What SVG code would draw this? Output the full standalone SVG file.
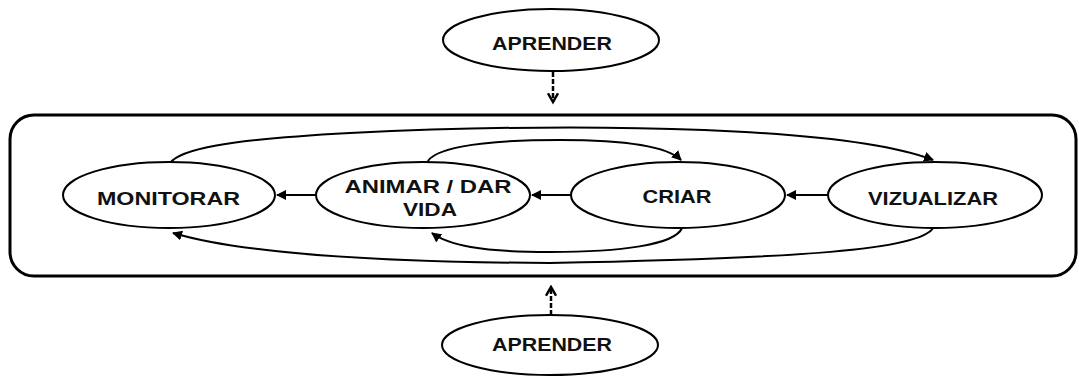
<svg xmlns="http://www.w3.org/2000/svg" width="1079" height="376" viewBox="0 0 1079 376">
  <defs>
    <marker id="arrow" viewBox="0 0 10 10" refX="9" refY="5" markerWidth="5" markerHeight="5" orient="auto" markerUnits="strokeWidth">
      <path d="M0,0 L10,5 L0,10 z" fill="#000"/>
    </marker>
    <marker id="vee" viewBox="0 0 10 10" refX="8" refY="5" markerWidth="5" markerHeight="5" orient="auto" markerUnits="strokeWidth">
      <path d="M1,1 L8,5 L1,9" fill="none" stroke="#000" stroke-width="2"/>
    </marker>
  </defs>
  <style>
    .node { fill: #fff; stroke: #000; stroke-width: 2; }
    .label { font-family: "Liberation Sans", Arial, sans-serif; font-weight: bold; font-size: 18px; fill: #111; text-anchor: middle; }
    .edge { fill: none; stroke: #000; stroke-width: 2; marker-end: url(#arrow); }
    .dash { fill: none; stroke: #000; stroke-width: 2.5; stroke-dasharray: 5 2; marker-end: url(#vee); }
    .frame { fill: none; stroke: #000; stroke-width: 3; }
  </style>

  <rect class="frame" x="10" y="115" width="1066" height="161" rx="24" ry="24"/>

  <g id="connectors">
    <line class="dash" x1="553" y1="72" x2="553" y2="102"/>
    <line class="dash" x1="551" y1="315" x2="551" y2="287"/>
    <line class="edge" x1="572" y1="195" x2="532" y2="195"/>
    <line class="edge" x1="828" y1="195" x2="787" y2="195"/>
    <line class="edge" x1="317" y1="195" x2="277" y2="195"/>
    <path class="edge" d="M170,163 C180,150 220,140 350,133 C600,121 850,128 933,160"/>
    <path class="edge" d="M427,163 C432,150 470,140 560,140 C630,140 668,147 681,160"/>
    <path class="edge" d="M682,228 C675,245 620,252 550,252 C480,252 448,245 432,233"/>
    <path class="edge" d="M933,228 C920,250 800,258 550,263 C350,262 230,250 173,233"/>
  </g>

  <g id="aprender-top">
    <ellipse class="node" cx="551" cy="40" rx="108" ry="31"/>
    <text class="label" x="552" y="50" textLength="120" lengthAdjust="spacingAndGlyphs">APRENDER</text>
  </g>

  <g id="monitorar">
    <ellipse class="node" cx="169" cy="195" rx="106" ry="33"/>
    <text class="label" x="168.5" y="205" textLength="143" lengthAdjust="spacingAndGlyphs">MONITORAR</text>
  </g>

  <g id="animar">
    <ellipse class="node" cx="423" cy="195" rx="107" ry="33"/>
    <text class="label" x="428" y="193" textLength="167" lengthAdjust="spacingAndGlyphs">ANIMAR / DAR</text>
    <text class="label" x="430" y="216" textLength="54" lengthAdjust="spacingAndGlyphs">VIDA</text>
  </g>

  <g id="criar">
    <ellipse class="node" cx="678" cy="195" rx="107" ry="33"/>
    <text class="label" x="677" y="203" textLength="69" lengthAdjust="spacingAndGlyphs">CRIAR</text>
  </g>

  <g id="vizualizar">
    <ellipse class="node" cx="935" cy="195" rx="107" ry="33"/>
    <text class="label" x="933" y="205" textLength="130" lengthAdjust="spacingAndGlyphs">VIZUALIZAR</text>
  </g>

  <g id="aprender-bottom">
    <ellipse class="node" cx="550" cy="345" rx="108" ry="30"/>
    <text class="label" x="552" y="351" textLength="120" lengthAdjust="spacingAndGlyphs">APRENDER</text>
  </g>
</svg>
